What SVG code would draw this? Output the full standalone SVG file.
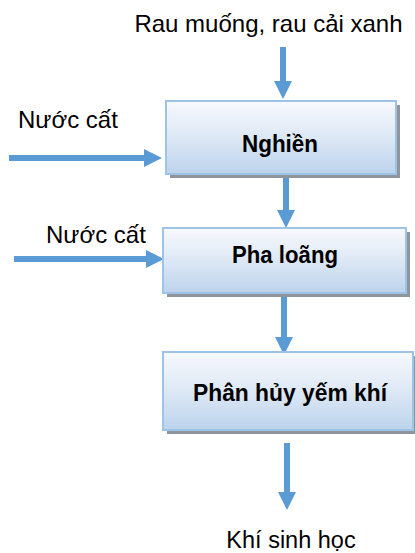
<svg xmlns="http://www.w3.org/2000/svg" width="415" height="553" viewBox="0 0 415 553">
  <defs>
    <linearGradient id="boxFill" x1="0" y1="0" x2="0" y2="1">
      <stop offset="0" stop-color="#f7f9fd"/>
      <stop offset="0.5" stop-color="#dde8f5"/>
      <stop offset="1" stop-color="#bcd3ec"/>
    </linearGradient>
    <marker id="head" viewBox="0 0 18 18" refX="1" refY="9" markerWidth="18" markerHeight="18" markerUnits="userSpaceOnUse" orient="auto">
      <path d="M0,0 L18,9 L0,18 Z" fill="#5b9bd5"/>
    </marker>
  </defs>
  <style>
    .box { fill: url(#boxFill); stroke: #9dc3e6; stroke-width: 2; }
    .shadow { fill: #8e959c; }
    .arrow { stroke: #5b9bd5; stroke-width: 6; fill: none; marker-end: url(#head); }
    .lbl { font-family: "Liberation Sans", Arial, sans-serif; font-size: 24px; fill: #000; }
    .bold { font-family: "Liberation Sans", Arial, sans-serif; font-size: 24px; font-weight: bold; fill: #000; text-anchor: middle; }
  </style>
  <rect width="415" height="553" fill="#ffffff"/>

  <g id="connectors">
    <line class="arrow" x1="283" y1="47" x2="283" y2="82"/>
    <line class="arrow" x1="286" y1="174" x2="286" y2="211"/>
    <line class="arrow" x1="284" y1="293" x2="284" y2="338"/>
    <line class="arrow" x1="287" y1="443" x2="287" y2="493"/>
    <line class="arrow" x1="9" y1="158" x2="145" y2="158"/>
    <line class="arrow" x1="14" y1="259" x2="147" y2="259"/>
  </g>

  <g id="node-input">
    <text class="lbl" x="268.5" y="32" text-anchor="middle">Rau muống, rau cải xanh</text>
  </g>
  <g id="node-water1">
    <text class="lbl" x="18" y="128">Nước cất</text>
  </g>
  <g id="node-water2">
    <text class="lbl" x="46" y="243">Nước cất</text>
  </g>

  <g id="node-nghien">
    <rect class="shadow" x="170" y="105" width="230" height="73"/>
    <rect class="box" x="166" y="101" width="230" height="73"/>
    <text class="bold" x="280" y="152" textLength="76" lengthAdjust="spacingAndGlyphs">Nghiền</text>
  </g>

  <g id="node-phaloang">
    <rect class="shadow" x="167" y="232" width="243" height="65"/>
    <rect class="box" x="163" y="228" width="243" height="65"/>
    <text class="bold" x="285" y="263" textLength="106" lengthAdjust="spacingAndGlyphs">Pha loãng</text>
  </g>

  <g id="node-phanhuy">
    <rect class="shadow" x="167" y="356" width="250" height="78"/>
    <rect class="box" x="163" y="352" width="250" height="78"/>
    <text class="bold" x="290" y="401" textLength="194" lengthAdjust="spacingAndGlyphs">Phân hủy yếm khí</text>
  </g>

  <g id="node-output">
    <text class="lbl" x="291" y="548" text-anchor="middle" style="font-size:23.5px">Khí sinh học</text>
  </g>
</svg>
